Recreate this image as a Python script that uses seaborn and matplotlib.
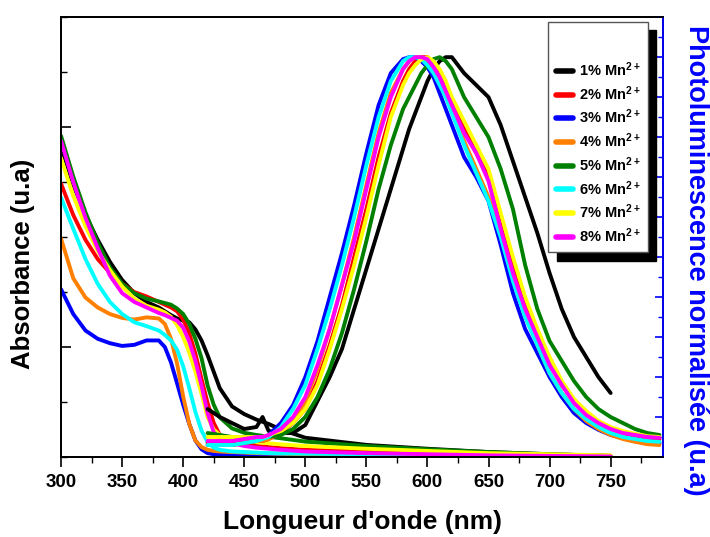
"""Absorbance + photoluminescence normalisée, série dopée Mn2+."""

import matplotlib
matplotlib.use("Agg")  # Non-interactive backend

import matplotlib.pyplot as plt  # noqa: E402
from matplotlib.ticker import MultipleLocator, FixedLocator, NullFormatter  # noqa: E402
import seaborn as sns  # noqa: E402

sns.set_theme(style="ticks")
plt.rcParams["font.family"] = ["Liberation Sans", "DejaVu Sans"]
plt.rcParams["font.weight"] = "bold"
plt.rcParams["text.color"] = "black"
plt.rcParams["axes.labelcolor"] = "black"
plt.rcParams["xtick.color"] = "black"
plt.rcParams["ytick.color"] = "black"
plt.rcParams["mathtext.fontset"] = "custom"
plt.rcParams["mathtext.rm"] = "Liberation Sans:bold"
plt.rcParams["mathtext.bf"] = "Liberation Sans:bold"
plt.rcParams["mathtext.default"] = "bf"

# Données
labels = ["1% Mn$^{2+}$", "2% Mn$^{2+}$", "3% Mn$^{2+}$", "4% Mn$^{2+}$",
          "5% Mn$^{2+}$", "6% Mn$^{2+}$", "7% Mn$^{2+}$", "8% Mn$^{2+}$"]
colors = ["#000000", "#ff0000", "#0000ff", "#ff8000",
          "#008000", "#00ffff", "#ffff00", "#ff00ff"]

abs_wl = [300, 310, 320, 330, 340, 350, 360, 370, 380, 385, 390, 395, 400, 405,
          410, 415, 420, 425, 430, 440, 450, 460, 470, 480, 500, 550, 600, 650, 700, 750]

abs_1 = [5.65, 4.95, 4.4, 3.95, 3.55, 3.22, 2.98, 2.82, 2.72, 2.65, 2.58, 2.52, 2.48, 2.45,
         2.32, 2.12, 1.85, 1.55, 1.25, 0.92, 0.78, 0.68, 0.6, 0.5, 0.35, 0.22, 0.15, 0.09, 0.05, 0.02]
abs_2 = [4.97, 4.4, 3.95, 3.6, 3.35, 3.15, 3.0, 2.92, 2.82, 2.77, 2.72, 2.65, 2.5, 2.25,
         1.88, 1.42, 0.98, 0.62, 0.4, 0.28, 0.22, 0.2, 0.18, 0.16, 0.13, 0.1, 0.07, 0.05, 0.03, 0.02]
abs_3 = [3.05, 2.6, 2.3, 2.15, 2.07, 2.02, 2.04, 2.12, 2.12, 2.0, 1.72, 1.34, 0.95, 0.6,
         0.3, 0.14, 0.07, 0.05, 0.04, 0.035, 0.03, 0.03, 0.03, 0.025, 0.02, 0.02, 0.015, 0.01, 0.01, 0.01]
abs_4 = [3.97, 3.25, 2.9, 2.72, 2.6, 2.53, 2.5, 2.54, 2.52, 2.42, 2.15, 1.7, 1.1, 0.6,
         0.3, 0.18, 0.13, 0.11, 0.1, 0.09, 0.08, 0.07, 0.065, 0.06, 0.05, 0.04, 0.03, 0.02, 0.015, 0.01]
abs_5 = [5.84, 5.1, 4.45, 3.9, 3.45, 3.15, 2.98, 2.88, 2.83, 2.8, 2.77, 2.7, 2.6, 2.42,
         2.15, 1.8, 1.3, 0.95, 0.72, 0.52, 0.44, 0.4, 0.37, 0.34, 0.28, 0.2, 0.14, 0.09, 0.05, 0.02]
abs_6 = [4.72, 4.15, 3.6, 3.15, 2.82, 2.6, 2.45, 2.38, 2.3, 2.22, 2.12, 1.95, 1.65, 1.25,
         0.82, 0.48, 0.27, 0.17, 0.13, 0.1, 0.09, 0.08, 0.07, 0.065, 0.06, 0.05, 0.04, 0.03, 0.02, 0.015]
abs_7 = [5.43, 4.75, 4.2, 3.75, 3.4, 3.1, 2.88, 2.75, 2.68, 2.63, 2.55, 2.4, 2.18, 1.9,
         1.55, 1.15, 0.72, 0.5, 0.4, 0.33, 0.3, 0.27, 0.25, 0.23, 0.2, 0.15, 0.11, 0.07, 0.05, 0.03]
abs_8 = [5.75, 5.0, 4.35, 3.8, 3.3, 2.98, 2.82, 2.72, 2.62, 2.58, 2.53, 2.48, 2.35, 2.1,
         1.75, 1.3, 0.8, 0.45, 0.32, 0.25, 0.2, 0.17, 0.15, 0.13, 0.1, 0.07, 0.05, 0.03, 0.02, 0.01]

pl_wl = [420, 430, 440, 450, 460, 465, 470, 480, 490, 500, 510, 520, 530, 540, 550, 560,
         570, 580, 585, 590, 595, 600, 605, 610, 615, 620, 630, 640, 650, 660, 670, 680,
         690, 700, 710, 720, 730, 740, 750, 760, 770, 780, 790]

pl_1 = [0.12, 0.1, 0.085, 0.07, 0.075, 0.1, 0.065, 0.06, 0.06, 0.08, 0.14, 0.2, 0.27, 0.37,
        0.47, 0.57, 0.67, 0.77, 0.82, 0.86, 0.9, 0.94, 0.97, 0.99, 1.0, 1.0, 0.96, 0.93,
        0.9, 0.83, 0.74, 0.65, 0.56, 0.46, 0.37, 0.3, 0.25, 0.2, 0.16]
pl_2 = [0.035, 0.035, 0.035, 0.035, 0.04, 0.04, 0.045, 0.06, 0.085, 0.12, 0.19, 0.28, 0.38,
        0.5, 0.62, 0.75, 0.86, 0.94, 0.97, 0.99, 1.0, 1.0, 0.985, 0.96, 0.93, 0.89, 0.82,
        0.76, 0.7, 0.59, 0.48, 0.38, 0.31, 0.24, 0.18, 0.14, 0.11, 0.085, 0.07, 0.06,
        0.052, 0.047, 0.044]
pl_3 = [0.03, 0.03, 0.03, 0.035, 0.04, 0.045, 0.055, 0.085, 0.13, 0.2, 0.29, 0.4, 0.51,
        0.63, 0.76, 0.88, 0.96, 0.995, 1.0, 1.0, 0.99, 0.975, 0.95, 0.91, 0.87, 0.83, 0.75,
        0.7, 0.64, 0.53, 0.41, 0.32, 0.26, 0.2, 0.15, 0.11, 0.085, 0.068, 0.055, 0.048,
        0.042, 0.038, 0.035]
pl_4 = [0.03, 0.03, 0.03, 0.035, 0.04, 0.04, 0.045, 0.06, 0.09, 0.14, 0.22, 0.32, 0.43,
        0.55, 0.68, 0.81, 0.91, 0.97, 0.99, 1.0, 1.0, 0.99, 0.97, 0.94, 0.905, 0.87, 0.79,
        0.72, 0.65, 0.56, 0.45, 0.36, 0.28, 0.21, 0.16, 0.12, 0.09, 0.07, 0.055, 0.045,
        0.038, 0.032, 0.03]
pl_5 = [0.06, 0.055, 0.05, 0.05, 0.05, 0.05, 0.05, 0.055, 0.07, 0.1, 0.15, 0.22, 0.31,
        0.42, 0.54, 0.67, 0.78, 0.87, 0.9, 0.93, 0.96, 0.98, 0.995, 1.0, 0.99, 0.97, 0.9,
        0.85, 0.8, 0.72, 0.62, 0.48, 0.37, 0.29, 0.24, 0.19, 0.15, 0.12, 0.1, 0.085,
        0.07, 0.06, 0.055]
pl_6 = [0.03, 0.03, 0.03, 0.035, 0.04, 0.045, 0.05, 0.075, 0.12, 0.18, 0.27, 0.37, 0.48,
        0.6, 0.73, 0.85, 0.94, 0.99, 1.0, 1.0, 0.995, 0.98, 0.96, 0.93, 0.9, 0.86, 0.78,
        0.71, 0.64, 0.55, 0.44, 0.35, 0.28, 0.21, 0.16, 0.12, 0.095, 0.075, 0.06, 0.05,
        0.045, 0.04, 0.038]
pl_7 = [0.05, 0.05, 0.05, 0.05, 0.05, 0.05, 0.055, 0.065, 0.085, 0.12, 0.18, 0.27, 0.37,
        0.48, 0.6, 0.73, 0.85, 0.93, 0.96, 0.98, 0.995, 1.0, 0.99, 0.97, 0.94, 0.9, 0.84,
        0.78, 0.72, 0.61, 0.5, 0.4, 0.32, 0.25, 0.19, 0.145, 0.115, 0.09, 0.075, 0.065,
        0.058, 0.052, 0.05]
pl_8 = [0.04, 0.04, 0.04, 0.045, 0.05, 0.05, 0.055, 0.07, 0.1, 0.15, 0.23, 0.32, 0.43,
        0.54, 0.67, 0.8, 0.9, 0.97, 0.99, 1.0, 1.0, 0.995, 0.975, 0.95, 0.915, 0.88, 0.81,
        0.76, 0.69, 0.57, 0.46, 0.37, 0.3, 0.23, 0.18, 0.135, 0.105, 0.085, 0.07, 0.06,
        0.055, 0.05, 0.048]

abs_series = [abs_1, abs_2, abs_3, abs_4, abs_5, abs_6, abs_7, abs_8]
pl_series = [pl_1, pl_2, pl_3, pl_4, pl_5, pl_6, pl_7, pl_8]

# Figure
fig = plt.figure(figsize=(7.1, 5.37), dpi=100)
ax1 = fig.add_axes([0.086, 0.149, 0.848, 0.819])
ax2 = ax1.twinx()

LW = 2.8
for y, c in zip(abs_series, colors):
    sns.lineplot(x=abs_wl, y=y, ax=ax1, color=c, lw=LW, estimator=None, sort=False, legend=False)
for y, c in zip(pl_series, colors):
    sns.lineplot(x=pl_wl[:len(y)], y=y, ax=ax2, color=c, lw=LW, estimator=None, sort=False,
                 legend=False)

ax1.set_xlim(300, 793)
ax1.set_ylim(0, 8)
ax2.set_ylim(0, 1.1)

# Axe x
ax1.xaxis.set_major_locator(MultipleLocator(50))
ax1.xaxis.set_minor_locator(MultipleLocator(25))
ax1.tick_params(axis="x", which="major", direction="out", length=7, width=1.2, pad=5,
                labelsize=13.5, colors="black")
ax1.tick_params(axis="x", which="minor", direction="out", length=4, width=1.0)
for t in ax1.get_xticklabels():
    t.set_fontweight("bold")

# Axe y gauche (sans valeurs)
ax1.yaxis.set_major_locator(FixedLocator([2, 6]))
ax1.yaxis.set_minor_locator(MultipleLocator(1))
ax1.yaxis.set_major_formatter(NullFormatter())
ax1.tick_params(axis="y", which="major", direction="in", length=7, width=1.2)
ax1.tick_params(axis="y", which="minor", direction="in", length=4, width=1.0)

# Axe y droit (bleu)
ax2.yaxis.set_major_locator(MultipleLocator(0.1))
ax2.yaxis.set_minor_locator(MultipleLocator(0.05))
ax2.yaxis.set_major_formatter(NullFormatter())
ax2.tick_params(axis="y", which="major", direction="in", length=6, width=1.2, colors="blue")
ax2.tick_params(axis="y", which="minor", direction="in", length=3.5, width=1.0, colors="blue")

for sp in ax1.spines.values():
    sp.set_color("black")
    sp.set_linewidth(1.3)
for name, sp in ax2.spines.items():
    sp.set_linewidth(1.3)
    sp.set_color("blue" if name == "right" else "black")

ax1.set_xlabel("Longueur d'onde (nm)", fontsize=19, fontweight="bold", labelpad=14)
ax1.set_ylabel("Absorbance (u.a)", fontsize=18.5, fontweight="bold", labelpad=15)
ax1.yaxis.label.set_y(0.44)
ax2.set_ylabel("Photoluminescence normalisée (u.a)", fontsize=19.5, fontweight="bold",
               color="blue", rotation=270, va="bottom", labelpad=11)
ax2.yaxis.label.set_y(0.448)

leg = ax2.legend(ax1.get_lines()[:8], labels, loc="upper right",
                 bbox_to_anchor=(0.975, 0.989), borderaxespad=0, fancybox=False,
                 shadow={"ox": 6, "oy": -6, "color": "black", "alpha": 1},
                 framealpha=1, edgecolor="#555555", handlelength=1.2,
                 handletextpad=0.4, labelspacing=0.35, borderpad=0.5,
                 title=" ", title_fontsize=20, prop={"weight": "bold", "size": 10.5})
leg.get_frame().set_linewidth(1.0)
for h in leg.legend_handles:
    h.set_linewidth(4)

plt.savefig("out.png", dpi=100)
plt.close()
